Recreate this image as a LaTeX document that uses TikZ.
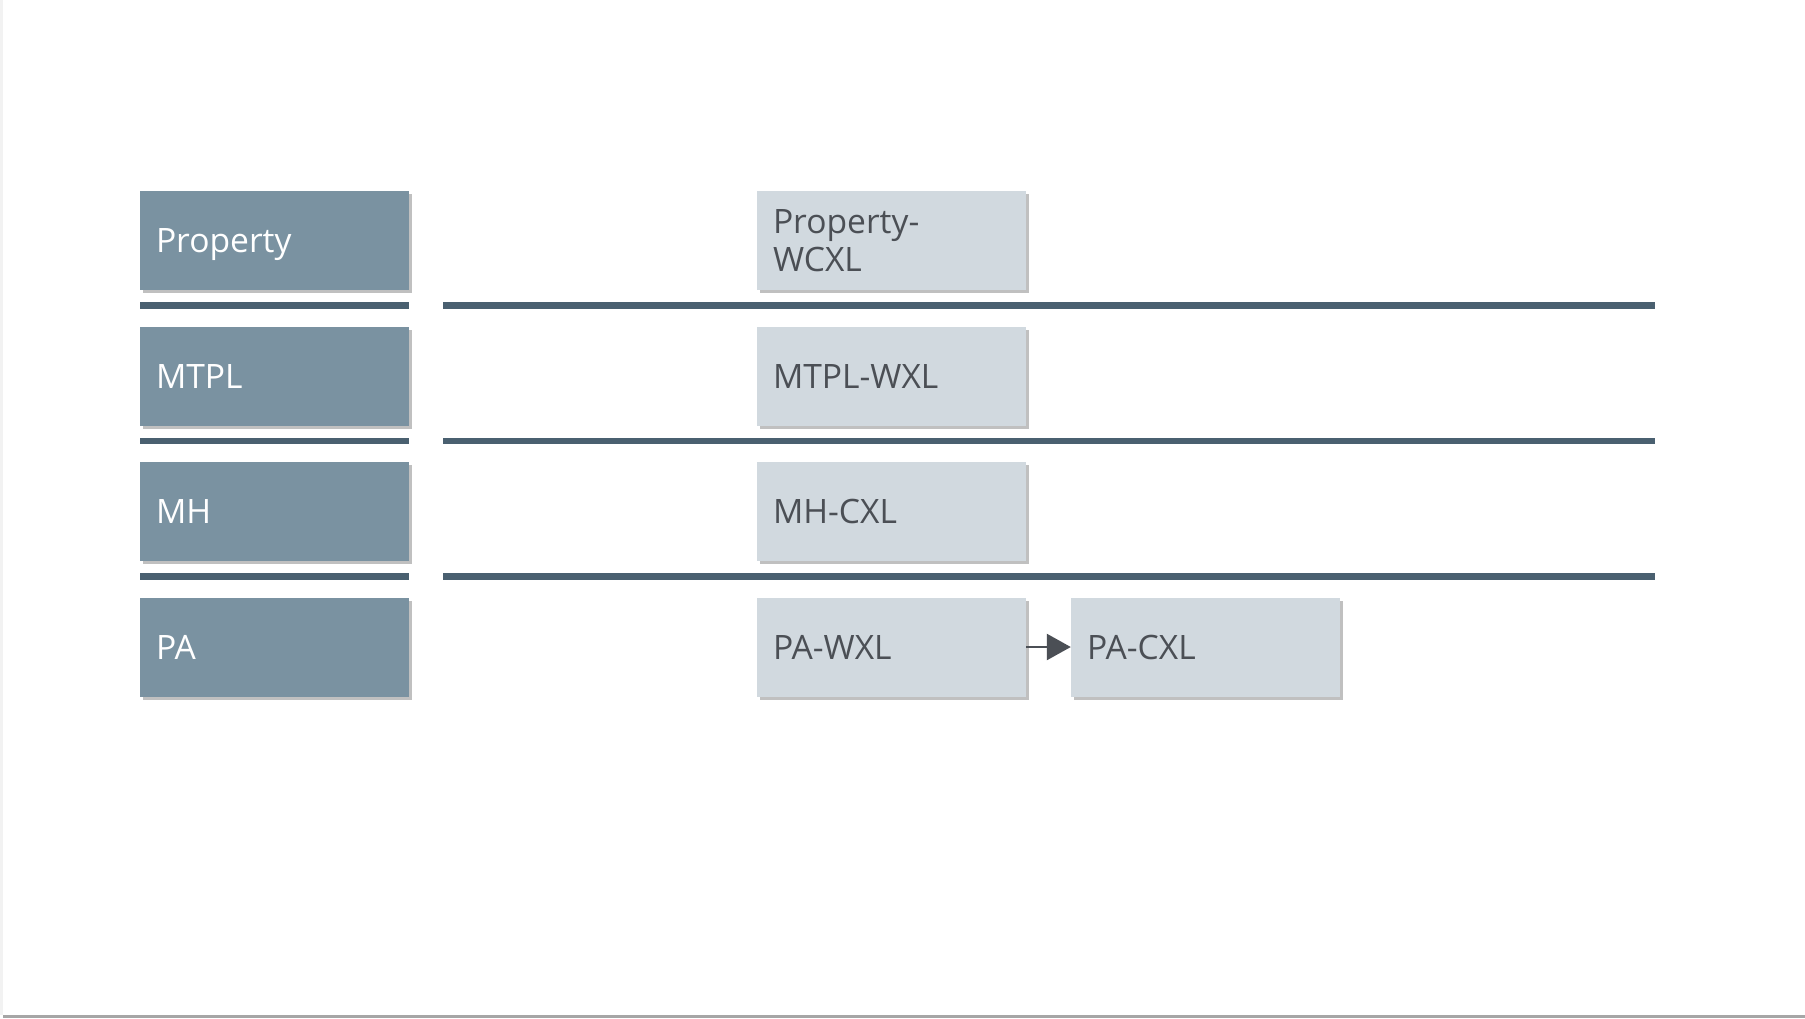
\documentclass[tikz,border=0pt]{standalone}
\usepackage{fontspec}
\setmainfont{Open Sans}
\usetikzlibrary{shadows,arrows.meta}
\definecolor{catfill}{HTML}{7A92A1}
\definecolor{itemfill}{HTML}{D1D9DF}
\definecolor{rulecol}{HTML}{4A6070}
\definecolor{itemtext}{HTML}{4B4F55}
\tikzset{
  box/.style={rectangle, minimum width=269pt, minimum height=99pt,
    inner xsep=16pt, inner ysep=0pt, text width=237pt, align=left,
    font=\fontsize{33.6pt}{38pt}\selectfont,
    drop shadow={shadow xshift=3pt, shadow yshift=-3pt, opacity=0.35, fill=black!70}},
  oneline/.style={text height=24pt, text depth=0pt},
  catbox/.style={box, oneline, fill=catfill, text=white},
  itembox/.style={box, fill=itemfill, text=itemtext},
  sep/.style={draw=rulecol, line width=6.5pt},
  flow/.style={draw=itemtext, line width=2.5pt, -{Triangle[length=24pt,width=26pt]}}
}
\begin{document}
\begin{tikzpicture}[x=1pt,y=-1pt]
  \useasboundingbox (0,0) rectangle (1805,1018);
  \fill[white] (0,0) rectangle (1805,1018);
  % page edge shading
  \fill[black!35] (3,1015) rectangle (1805,1018);
  \fill[black!5] (0,0) rectangle (3,1015);

  % category boxes
  \node[catbox] (cprop) at (274.5,240.5) {Property};
  \node[catbox] (cmtpl) at (274.5,376) {MTPL};
  \node[catbox] (cmh)   at (274.5,511.5) {MH};
  \node[catbox] (cpa)   at (274.5,647) {PA};

  % product boxes
  \node[itembox] (iprop) at (891.5,240.5) {Property-\\WCXL};
  \node[itembox, oneline] (imtpl) at (891.5,376) {MTPL-WXL};
  \node[itembox, oneline] (imh)   at (891.5,511.5) {MH-CXL};
  \node[itembox, oneline] (ipawxl) at (891.5,647) {PA-WXL};
  \node[itembox, oneline] (ipacxl) at (1205.5,647) {PA-CXL};

  % row separators
  \coordinate (sAl) at (140,305.5);  \coordinate (sAr) at (409,305.5);
  \coordinate (sBl) at (443,305.5);  \coordinate (sBr) at (1655,305.5);
  \coordinate (sCl) at (140,441);    \coordinate (sCr) at (409,441);
  \coordinate (sDl) at (443,441);    \coordinate (sDr) at (1655,441);
  \coordinate (sEl) at (140,576.5);  \coordinate (sEr) at (409,576.5);
  \coordinate (sFl) at (443,576.5);  \coordinate (sFr) at (1655,576.5);
  \draw[sep] (sAl) -- (sAr);  \draw[sep] (sBl) -- (sBr);
  \draw[sep] (sCl) -- (sCr);  \draw[sep] (sDl) -- (sDr);
  \draw[sep] (sEl) -- (sEr);  \draw[sep] (sFl) -- (sFr);

  % flow arrow
  \draw[flow] (ipawxl.east) -- (ipacxl.west);
\end{tikzpicture}
\end{document}
